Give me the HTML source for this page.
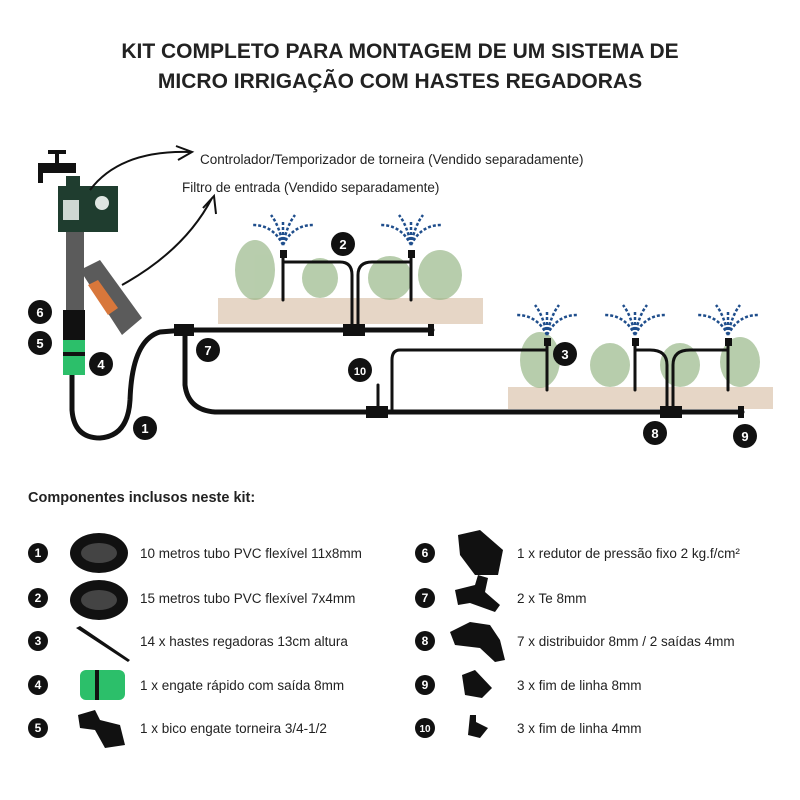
<!DOCTYPE html>
<html><head><meta charset="utf-8"><style>
body{margin:0;width:800px;height:800px;background:#fff;font-family:"Liberation Sans",sans-serif;overflow:hidden;position:relative}
svg{position:absolute;left:0;top:0}
</style></head><body>
<svg width="800" height="800" viewBox="0 0 800 800" xmlns="http://www.w3.org/2000/svg" font-family="Liberation Sans, sans-serif">
<text x="400" y="58" text-anchor="middle" font-size="21" font-weight="bold" fill="#222">KIT COMPLETO PARA MONTAGEM DE UM SISTEMA DE</text>
<text x="400" y="88" text-anchor="middle" font-size="21" font-weight="bold" fill="#222">MICRO IRRIGAÇÃO COM HASTES REGADORAS</text>

<rect x="218" y="298" width="265" height="26" fill="#e6d6c6"/>
<rect x="508" y="387" width="265" height="22" fill="#e6d6c6"/>
<g fill="#9ab88a" opacity="0.7">
<ellipse cx="255" cy="270" rx="20" ry="30"/><ellipse cx="320" cy="278" rx="18" ry="20"/><ellipse cx="390" cy="278" rx="22" ry="22"/><ellipse cx="440" cy="275" rx="22" ry="25"/>
<ellipse cx="540" cy="360" rx="20" ry="28"/><ellipse cx="610" cy="365" rx="20" ry="22"/><ellipse cx="680" cy="365" rx="20" ry="22"/><ellipse cx="740" cy="362" rx="20" ry="25"/>
</g>
<g stroke="#1f4e8c" stroke-width="2.5" stroke-dasharray="3 2" fill="none">
<path d="M283 245 q-10 -20 -30 -20 M283 245 q-4 -20 -12 -30 M283 245 q4 -20 12 -30 M283 245 q10 -20 30 -20 M283 245 v-25"/>
<path d="M411 245 q-10 -20 -30 -20 M411 245 q-4 -20 -12 -30 M411 245 q4 -20 12 -30 M411 245 q10 -20 30 -20 M411 245 v-25"/>
<path d="M547 335 q-10 -20 -30 -20 M547 335 q-4 -20 -12 -30 M547 335 q4 -20 12 -30 M547 335 q10 -20 30 -20 M547 335 v-25"/>
<path d="M635 335 q-10 -20 -30 -20 M635 335 q-4 -20 -12 -30 M635 335 q4 -20 12 -30 M635 335 q10 -20 30 -20 M635 335 v-25"/>
<path d="M728 335 q-10 -20 -30 -20 M728 335 q-4 -20 -12 -30 M728 335 q4 -20 12 -30 M728 335 q10 -20 30 -20 M728 335 v-25"/>
</g>
<g stroke="#111" fill="none" stroke-linecap="round">
<path d="M72 375 L72 410 Q74 438 100 438 Q128 436 130 400 Q132 340 160 332 L185 330 L432 330" stroke-width="5"/>
<path d="M185 330 L185 385 Q188 410 215 412 L742 412" stroke-width="5"/>
<path d="M283 300 V255 M411 300 V255 M283 262 H340 Q352 262 352 275 V328 M358 328 V275 Q358 262 372 262 H411" stroke-width="3"/>
<path d="M547 390 V342 M635 390 V342 M728 390 V342 M547 350 H400 Q392 350 392 360 V410 M667 410 V365 Q667 350 650 350 H635 M673 410 V365 Q673 350 690 350 H728" stroke-width="3"/>
<path d="M378 410 V385" stroke-width="3"/>
</g>
<g fill="#111">
<rect x="174" y="324" width="20" height="12"/><rect x="343" y="324" width="22" height="12"/><rect x="428" y="324" width="6" height="12"/>
<rect x="366" y="406" width="22" height="12"/><rect x="660" y="406" width="22" height="12"/><rect x="738" y="406" width="6" height="12"/>
<rect x="280" y="250" width="7" height="8"/><rect x="408" y="250" width="7" height="8"/><rect x="544" y="338" width="7" height="8"/><rect x="632" y="338" width="7" height="8"/><rect x="725" y="338" width="7" height="8"/>
</g>
<rect x="38" y="163" width="38" height="10" fill="#111"/><rect x="38" y="163" width="5" height="20" fill="#111"/><rect x="55" y="150" width="4" height="14" fill="#111"/><rect x="48" y="150" width="18" height="4" fill="#111"/>
<rect x="66" y="176" width="14" height="10" fill="#1f3d2f"/>
<rect x="58" y="186" width="60" height="46" fill="#1f3d2f"/>
<rect x="63" y="200" width="16" height="20" fill="#cfd8d3"/><circle cx="102" cy="203" r="7" fill="#dfe6e2"/>
<rect x="66" y="232" width="18" height="78" fill="#5b5b5b"/>
<path d="M80 270 L100 260 L142 318 L122 335 Z" fill="#5b5b5b"/>
<path d="M88 285 L98 280 L118 308 L108 315 Z" fill="#d8773b"/>
<rect x="63" y="310" width="22" height="30" fill="#111"/>
<rect x="63" y="340" width="22" height="35" fill="#2cbf6a"/><rect x="63" y="352" width="22" height="4" fill="#111"/>
<g stroke="#111" stroke-width="2" fill="none">
<path d="M90 190 Q120 150 190 152 M176 146 L192 152 L178 160"/>
<path d="M122 285 Q185 250 212 198 M203 208 L214 196 L216 214"/>
</g>
<text x="200" y="164" font-size="13.5" fill="#222">Controlador/Temporizador de torneira (Vendido separadamente)</text>
<text x="182" y="192" font-size="13.5" fill="#222">Filtro de entrada (Vendido separadamente)</text>
<g font-size="13" font-weight="bold" fill="#fff" text-anchor="middle">
<circle cx="40" cy="312" r="12" fill="#111"/><text x="40" y="317">6</text>
<circle cx="40" cy="343" r="12" fill="#111"/><text x="40" y="348">5</text>
<circle cx="101" cy="364" r="12" fill="#111"/><text x="101" y="369">4</text>
<circle cx="145" cy="428" r="12" fill="#111"/><text x="145" y="433">1</text>
<circle cx="208" cy="350" r="12" fill="#111"/><text x="208" y="355">7</text>
<circle cx="343" cy="244" r="12" fill="#111"/><text x="343" y="249">2</text>
<circle cx="360" cy="370" r="12" fill="#111"/><text x="360" y="375" font-size="11">10</text>
<circle cx="565" cy="354" r="12" fill="#111"/><text x="565" y="359">3</text>
<circle cx="655" cy="433" r="12" fill="#111"/><text x="655" y="438">8</text>
<circle cx="745" cy="436" r="12" fill="#111"/><text x="745" y="441">9</text>
</g>

<text x="28" y="502" font-size="14.5" font-weight="bold" fill="#222">Componentes inclusos neste kit:</text>
<g font-size="12" font-weight="bold" fill="#fff" text-anchor="middle">
<circle cx="38" cy="553" r="10" fill="#111"/><text x="38" y="557">1</text>
<circle cx="38" cy="598" r="10" fill="#111"/><text x="38" y="602">2</text>
<circle cx="38" cy="641" r="10" fill="#111"/><text x="38" y="645">3</text>
<circle cx="38" cy="685" r="10" fill="#111"/><text x="38" y="689">4</text>
<circle cx="38" cy="728" r="10" fill="#111"/><text x="38" y="732">5</text>
<circle cx="425" cy="553" r="10" fill="#111"/><text x="425" y="557">6</text>
<circle cx="425" cy="598" r="10" fill="#111"/><text x="425" y="602">7</text>
<circle cx="425" cy="641" r="10" fill="#111"/><text x="425" y="645">8</text>
<circle cx="425" cy="685" r="10" fill="#111"/><text x="425" y="689">9</text>
<circle cx="425" cy="728" r="10" fill="#111"/><text x="425" y="732" font-size="10">10</text>
</g>
<g fill="#111">
<ellipse cx="99" cy="553" rx="29" ry="20"/><ellipse cx="99" cy="553" rx="18" ry="10" fill="#444"/>
<ellipse cx="99" cy="600" rx="29" ry="20"/><ellipse cx="99" cy="600" rx="18" ry="10" fill="#444"/>
<path d="M76 628 L80 626 L130 660 L128 662 Z"/>
<rect x="80" y="670" width="45" height="30" rx="6" fill="#2cbf6a"/><rect x="95" y="670" width="4" height="30"/>
<path d="M78 715 L95 710 L100 720 L120 725 L125 745 L105 748 L95 730 L80 728 Z"/>
<path d="M458 535 L480 530 L503 550 L498 575 L475 575 L460 555 Z"/>
<path d="M455 590 L475 585 L478 575 L488 578 L485 592 L500 605 L495 612 L470 603 L458 605 Z"/>
<path d="M450 632 L470 622 L490 625 L500 640 L505 660 L495 662 L480 648 L455 645 Z"/>
<path d="M462 675 L475 670 L492 688 L482 698 L465 695 Z"/>
<path d="M470 715 L476 715 L476 722 L488 728 L480 738 L468 735 Z"/>
</g>
<g font-size="13.5" fill="#222">
<text x="140" y="558">10 metros tubo PVC flexível 11x8mm</text>
<text x="140" y="603">15 metros tubo PVC flexível 7x4mm</text>
<text x="140" y="646">14 x hastes regadoras 13cm altura</text>
<text x="140" y="690">1 x engate rápido com saída 8mm</text>
<text x="140" y="733">1 x bico engate torneira 3/4-1/2</text>
<text x="517" y="558">1 x redutor de pressão fixo 2 kg.f/cm²</text>
<text x="517" y="603">2 x Te 8mm</text>
<text x="517" y="646">7 x distribuidor 8mm / 2 saídas 4mm</text>
<text x="517" y="690">3 x fim de linha 8mm</text>
<text x="517" y="733">3 x fim de linha 4mm</text>
</g>
</svg>
</body></html>
